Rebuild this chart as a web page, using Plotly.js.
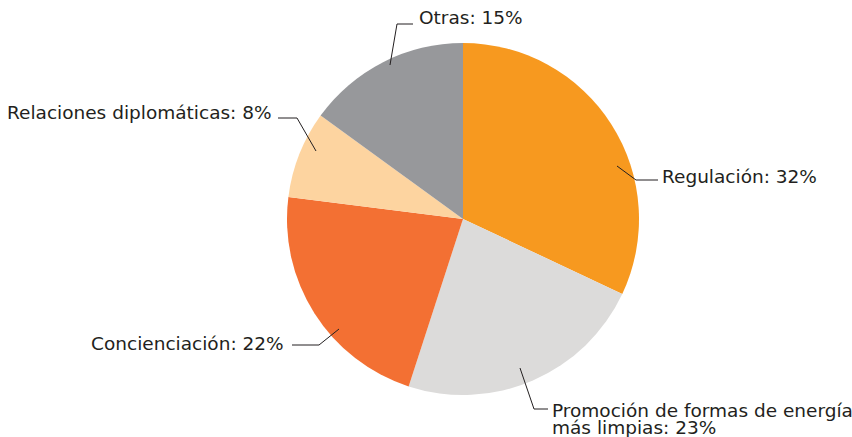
<!DOCTYPE html>
<html>
<head>
<meta charset="utf-8">
<script src="https://cdn.plot.ly/plotly-3.0.1.min.js"></script>
<style>
  html, body { margin: 0; padding: 0; background: #fff; }
  #chart { width: 852px; height: 437px; }
</style>
</head>
<body>
<div id="chart"></div>
<script>
// values
const categories = ['Regulación', 'Promoción de formas de energía|más limpias', 'Concienciación', 'Relaciones diplomáticas', 'Otras'];
const shares = [32, 23, 22, 8, 15];
const colors = ['#F7991F', '#DCDBDA', '#F37033', '#FDD4A0', '#97989B'];

const W = 852, H = 437;
const px = x => x / W;
const py = y => 1 - y / H;

// label spots + leader elbows, in pixels
const labelSpots = [
  { x: 661, y: 176, anchor: 'left',  pts: [[617, 166], [636, 180], [658, 180]] },
  { x: 551, y: 410, anchor: 'left',  pts: [[520, 368], [534, 409], [548, 409]] },
  { x: 285, y: 343, anchor: 'right', pts: [[339, 329], [319, 345], [292, 345]] },
  { x: 273, y: 112, anchor: 'right', pts: [[316, 151], [297, 118], [278, 118]] },
  { x: 418, y: 18,  anchor: 'left',  pts: [[390, 65], [397, 24], [413, 24]] }
];
const lineGap = 17;

const data = [{
  type: 'pie',
  values: shares,
  labels: categories.map(c => c.replace('|', ' ')),
  marker: { colors: colors, line: { width: 0 } },
  sort: false,
  direction: 'clockwise',
  rotation: 0,
  textinfo: 'none',
  hoverinfo: 'label+percent',
  domain: { x: [287 / W, 639 / W], y: [42 / H, 394 / H] },
  showlegend: false
}];

const annotations = [];
categories.forEach((c, i) => {
  const s = labelSpots[i];
  const lines = (c + ': ' + shares[i] + '%').split('|');
  lines.forEach((t, k) => {
    annotations.push({
      x: px(s.x), y: py(s.y + k * lineGap),
      xref: 'paper', yref: 'paper',
      xanchor: s.anchor, yanchor: 'middle',
      text: t,
      showarrow: false,
      borderpad: 0,
      font: { family: 'DejaVu Sans', size: 18.5, color: '#231F20' }
    });
  });
});

const shapes = [];
labelSpots.forEach(s => {
  for (let k = 0; k < s.pts.length - 1; k++) {
    shapes.push({
      type: 'line', xref: 'paper', yref: 'paper',
      x0: px(s.pts[k][0]), y0: py(s.pts[k][1]),
      x1: px(s.pts[k + 1][0]), y1: py(s.pts[k + 1][1]),
      line: { color: '#231F20', width: 1 }
    });
  }
});

const layout = {
  width: W, height: H,
  margin: { l: 0, r: 0, t: 0, b: 0 },
  paper_bgcolor: '#fff',
  annotations: annotations,
  shapes: shapes
};

Plotly.newPlot('chart', data, layout, { displayModeBar: false, staticPlot: true });
</script>
</body>
</html>
